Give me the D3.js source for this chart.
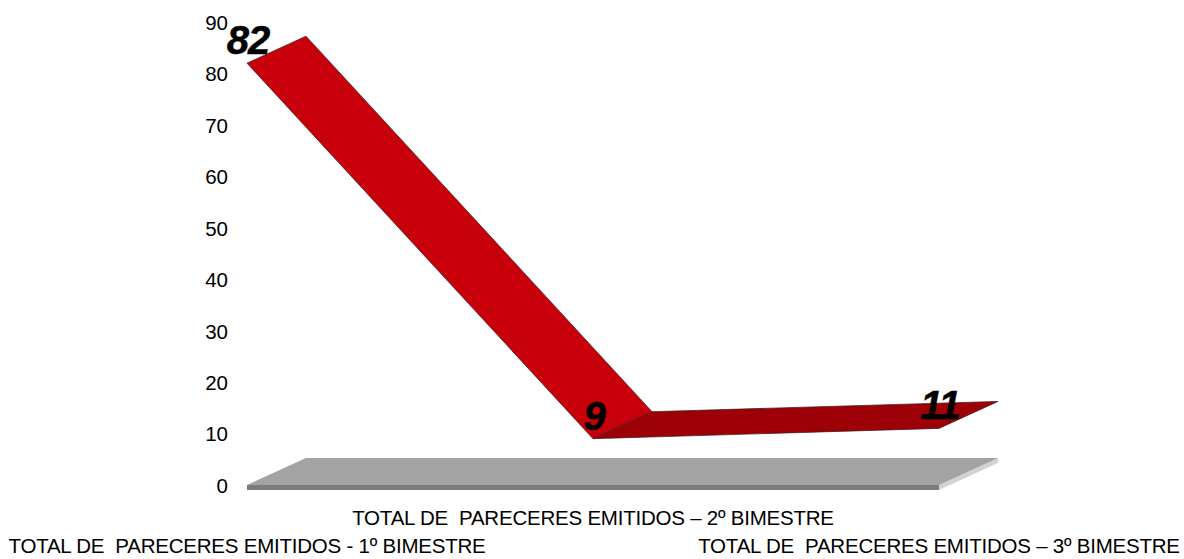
<!DOCTYPE html>
<html>
<head>
<meta charset="utf-8">
<script src="https://cdn.jsdelivr.net/npm/d3@7"></script>
<style>
  html, body { margin: 0; padding: 0; background: #fff; }
  svg { display: block; }
  text { font-family: "Liberation Sans", Arial, sans-serif; fill: #000; }
  .axis path, .axis line { display: none; }
</style>
</head>
<body>
<div class="chart"></div>
<script>
// values
var categories = [
  "TOTAL DE  PARECERES EMITIDOS - 1º BIMESTRE",
  "TOTAL DE  PARECERES EMITIDOS – 2º BIMESTRE",
  "TOTAL DE  PARECERES EMITIDOS – 3º BIMESTRE"
];
var values = [82, 9, 11];
var yTicks = [0, 10, 20, 30, 40, 50, 60, 70, 80, 90];

var svgWidth = 1184;
var svgHeight = 559;

var svg = d3.select(".chart")
  .append("svg")
  .attr("width", svgWidth)
  .attr("height", svgHeight);

var xScale = d3.scalePoint().domain(categories).range([247, 939]);
var yScale = d3.scaleLinear().domain([0, 90]).range([485, 22]);

// 3D depth of the ribbon and the floor
var depthX = 59;
var depthY = -27;
var floorThick = 5;

function pts(list) {
  return list.map(p => p.join(",")).join(" ");
}

// floor
var x0 = xScale(categories[0]);
var x1 = xScale(categories[2]);
var y0 = yScale(0);
var floor = svg.append("g");

floor.append("polygon")
  .attr("points", pts([[x1, y0], [x1 + depthX, y0 + depthY], [x1 + depthX, y0 + depthY + floorThick], [x1, y0 + floorThick]]))
  .attr("fill", "#d2d2d2");
floor.append("polygon")
  .attr("points", pts([[x0, y0], [x0 + depthX, y0 + depthY], [x1 + depthX, y0 + depthY], [x1, y0]]))
  .attr("fill", "#a3a3a3");
floor.append("rect")
  .attr("x", x0)
  .attr("y", y0)
  .attr("width", x1 - x0)
  .attr("height", floorThick)
  .attr("fill", "#7c7c7c");

// ribbon, one face per segment
var segColors = ["#c7000b", "#9d0007"];
var ribbon = svg.append("g");

d3.range(values.length - 1).reverse().forEach(function(i) {
  var ax = xScale(categories[i]), ay = yScale(values[i]);
  var bx = xScale(categories[i + 1]), by = yScale(values[i + 1]);
  ribbon.append("polygon")
    .attr("points", pts([[ax, ay], [ax + depthX, ay + depthY], [bx + depthX, by + depthY], [bx, by]]))
    .attr("fill", segColors[i])
    .attr("stroke", "#3a1a1a")
    .attr("stroke-width", 0.7)
    .attr("stroke-linejoin", "round");
});

// y axis
var yAxis = svg.append("g")
  .attr("class", "axis")
  .attr("transform", "translate(228,0)")
  .call(d3.axisLeft(yScale).tickValues(yTicks).tickSize(0).tickPadding(0));

yAxis.selectAll("text")
  .style("font-size", "20.5px")
  .attr("dy", "0.36em");

// category labels, the middle one sits on a higher row
svg.selectAll(".catLabel")
  .data(categories)
  .enter()
  .append("text")
  .attr("class", "catLabel")
  .attr("x", d => xScale(d))
  .attr("y", (d, i) => i === 1 ? 525 : 553)
  .attr("text-anchor", "middle")
  .style("white-space", "pre")
  .style("font-size", "20.5px")
  .style("letter-spacing", "-0.22px")
  .text(d => d);

// data labels
svg.selectAll(".valLabel")
  .data(values)
  .enter()
  .append("text")
  .attr("class", "valLabel")
  .attr("x", (d, i) => xScale(categories[i]) + 1)
  .attr("y", (d, i) => yScale(d) - 9)
  .attr("text-anchor", "middle")
  .style("font-size", "40px")
  .style("font-weight", "bold")
  .style("font-style", "italic")
  .style("letter-spacing", "-1px")
  .style("stroke", "#000")
  .style("stroke-width", "0.5px")
  .text(d => d);
</script>
</body>
</html>
